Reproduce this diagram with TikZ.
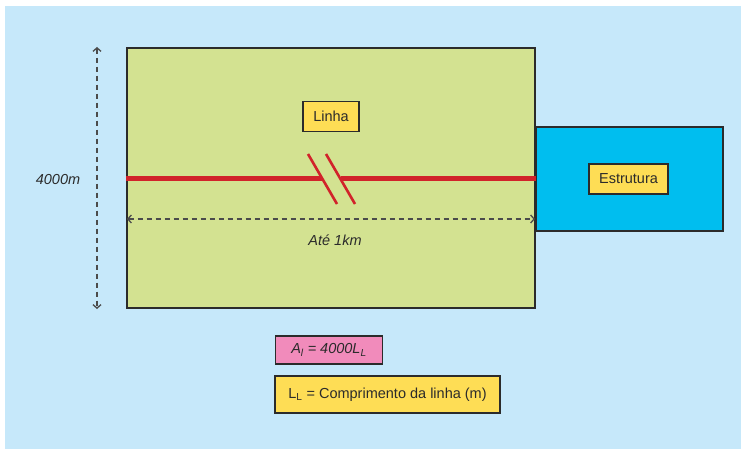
\documentclass[tikz,border=0pt]{standalone}
\usepackage{fontspec}
\setmainfont{Liberation Sans}
\usepackage{xcolor}
\usetikzlibrary{arrows.meta, positioning}
\definecolor{skybg}{HTML}{C6E8FA}
\definecolor{fieldgreen}{HTML}{D3E291}
\definecolor{structblue}{HTML}{00BEEF}
\definecolor{labelyellow}{HTML}{FEDD55}
\definecolor{labelpink}{HTML}{F18BBB}
\definecolor{linered}{HTML}{D1232A}
\definecolor{inkgray}{HTML}{2B2B2B}

\begin{document}
\begin{tikzpicture}[
    x=1pt, y=-1pt,
    font=\fontsize{14.5}{16}\selectfont\color{inkgray},
    area/.style={rectangle, draw=inkgray, line width=2pt, inner sep=0pt},
    tag/.style={rectangle, draw=inkgray, line width=1.4pt, fill=labelyellow, align=center, inner sep=0pt, minimum height=30pt},
    dimline/.style={{Straight Barb[length=3.5pt,width=8pt]}-{Straight Barb[length=3.5pt,width=8pt]}, dashed, dash pattern=on 5.5pt off 3.5pt, draw=inkgray!85, line width=1.3pt},
    redline/.style={draw=linered, line width=5pt},
    slash/.style={draw=linered, line width=2.6pt},
]
    % background
    \fill[white] (0,0) rectangle (741,449);
    \fill[skybg] (5,6) rectangle (741,449);
    \useasboundingbox (0,0) rectangle (741,449);

    % areas
    \node[area, fill=fieldgreen, minimum width=408pt, minimum height=260pt] at (331,178) (field) {};
    \node[area, fill=structblue, minimum width=187pt, minimum height=104pt, anchor=west] at (535,179) (struct) {};

    \node[tag, minimum width=56pt] at (331,116.5) (linha) {Linha};
    \node[tag, minimum width=79pt] at (628.5,179) (estrutura) {Estrutura};

    % line with break
    \coordinate (lineA) at (field.west |- 0,179);
    \coordinate (lineB) at (field.east |- 0,179);
    \coordinate (brk1) at (322,179);
    \coordinate (brk2) at (341,179);
    \draw[redline] (lineA) -- (brk1);
    \draw[redline] (brk2) -- (lineB);
    \draw[slash] (308,154) -- (337,204);
    \draw[slash] (326,154) -- (355,204);

    % dimensions
    \draw[dimline] ([xshift=-29pt]field.north west) -- ([xshift=-29pt]field.south west);
    \node[font=\fontsize{14.5}{16}\selectfont\itshape\color{inkgray}] at (58,180) (height) {4000m};
    \draw[dimline] ([xshift=1pt]field.west |- 0,219) -- ([xshift=-1pt]field.east |- 0,219);
    \node[font=\fontsize{14.5}{16}\selectfont\itshape\color{inkgray}] at (335,240) (width) {Até 1km};

    % formulas
    \node[tag, fill=labelpink, minimum width=107pt, minimum height=28pt, font=\fontsize{14.5}{16}\selectfont\itshape\color{inkgray}] at (329,350) (area eq) {A\textsubscript{l} = 4000L\textsubscript{L}};
    \node[tag, minimum width=225pt, minimum height=37pt] at (387.5,394.5) (legend) {L\textsubscript{L} = Comprimento da linha (m)};
\end{tikzpicture}
\end{document}
